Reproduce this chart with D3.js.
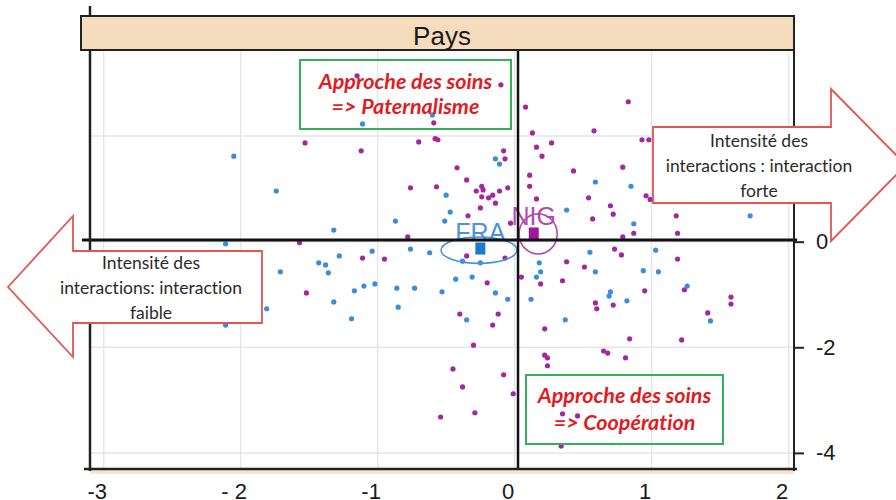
<!DOCTYPE html>
<html>
<head>
<meta charset="utf-8">
<script src="https://cdn.jsdelivr.net/npm/d3@7"></script>
<style>
  body { margin: 0; background: #fff; }
  svg { display: block; }
  text { font-variant-ligatures: none; }
</style>
</head>
<body>
<div id="chart"></div>
<script>
// factor map (dim 1 x dim 2), individuals coloured by "Pays"
var xTicks = [-3, -2, -1, 0, 1, 2];
var xTickLabels = ["-3", "- 2", "-1", "0", "1", "2"];
var yTicks = [2, 0, -2, -4];
var yTickLabels = ["2", "0", "-2", "-4"];

// FRA individuals [dim1, dim2]
var fraPoints = [
  [-1.11, 2.23], [-2.05, 1.62], [-1.74, 0.96], [-0.87, 0.39], [-1.32, 0.22],
  [-2.11, -0.04], [-0.50, 0.88], [-0.14, 1.57], [-0.11, 1.47], [0.59, 1.13],
  [-0.47, 0.56], [0.38, 0.60], [-0.51, 0.39], [0.85, 1.05], [1.72, 0.49],
  [0.87, 0.34], [-0.76, -0.14], [-1.04, -0.18], [-1.28, -0.27], [-1.43, -0.40],
  [-1.38, -0.44], [-1.36, -0.59], [-1.71, -0.57], [-1.02, -0.80], [-1.10, -0.84],
  [-0.86, -0.88], [-0.73, -0.88], [-1.17, -0.93], [-1.32, -1.14], [-1.81, -1.27],
  [-0.85, -1.24], [-1.19, -1.46], [-2.11, -1.58], [-0.62, -0.21], [-0.53, -0.95],
  [-0.38, -0.37], [-0.25, -0.40], [0.55, -0.20], [0.18, -0.40], [0.19, -0.57],
  [0.59, -0.57], [0.16, -0.67], [-0.43, -0.71], [-0.31, -0.67], [-0.14, -0.97],
  [-0.05, -1.09], [0.12, -1.09], [0.70, -0.95], [0.69, -1.03], [-0.35, -1.48],
  [0.37, -1.48], [1.03, -0.16], [0.94, -0.55], [1.05, -0.57], [1.26, -0.84],
  [0.82, -1.12], [1.43, -1.50], [-0.60, 2.40]
];

// NIG individuals [dim1, dim2]
var nigPoints = [
  [-1.53, 1.87], [-1.12, 1.72], [-0.70, 1.89], [-0.76, 1.02], [-0.78, 0.09],
  [-1.57, -0.02], [-0.10, 2.97], [0.08, 2.55], [-0.59, 2.25], [-0.58, 1.95],
  [-0.56, 1.93], [0.13, 2.06], [0.58, 2.10], [0.27, 1.87], [0.16, 1.79],
  [-0.08, 1.72], [0.20, 1.62], [-0.07, 1.57], [-0.42, 1.40], [0.43, 1.34],
  [0.11, 1.26], [-0.35, 1.17], [-0.57, 1.04], [0.11, 1.05], [-0.24, 1.05],
  [-0.23, 0.98], [-0.28, 0.96], [-0.05, 1.02], [-0.11, 0.96], [-0.16, 0.88],
  [-0.24, 0.85], [-0.19, 0.83], [0.16, 0.81], [0.54, 0.83], [-0.14, 0.73],
  [-0.25, 0.64], [0.70, 0.68], [0.72, 0.52], [0.57, 0.43], [-0.34, 0.49],
  [-0.03, 0.35], [0.83, 2.65], [0.93, 1.93], [0.98, 1.93], [0.79, 1.41],
  [0.96, 0.87], [0.99, 0.80], [1.18, 0.49], [0.87, 0.16], [0.79, 0.09],
  [1.19, 0.16], [-1.11, -0.31], [-0.95, -0.33], [-1.52, -0.97], [-0.35, -0.27],
  [-0.07, -0.31], [0.73, -0.14], [0.38, -0.38], [0.51, -0.48], [0.05, -0.67],
  [-0.20, -0.78], [0.19, -0.80], [0.35, -0.74], [0.59, -1.16], [0.60, -1.27],
  [0.72, -1.20], [-0.40, -1.37], [-0.12, -1.37], [-0.16, -1.58], [0.22, -1.65],
  [-0.30, -1.96], [0.65, -2.07], [0.68, -2.11], [0.22, -2.15], [0.24, -2.20],
  [0.24, -2.35], [-0.45, -2.41], [-0.08, -2.52], [-0.38, -2.75], [-0.01, -2.88],
  [-0.29, -3.24], [-0.54, -3.32], [0.35, -3.26], [0.46, -3.30], [0.34, -3.87],
  [0.78, -0.25], [1.19, -0.33], [1.24, -0.91], [0.95, -0.93], [1.58, -1.05],
  [1.58, -1.18], [1.41, -1.35], [0.84, -1.84], [1.22, -1.86], [0.81, -2.20],
  [-1.15, 3.14]
];

// group centres and confidence ellipses [cx, cy, rx, ry]
var groupNames = ["FRA", "NIG"];
var groupCentres = [[-0.25, -0.13], [0.14, 0.155]];
var groupEllipses = [[-0.26, -0.16, 0.277, 0.25], [0.172, 0.146, 0.139, 0.38]];

var crossX = 0.025, crossY = 0.03;

var width = 896, height = 500;
var padL = 90, padR = 794, padT = 50, padB = 469;

var blue = "#3a8ddb", purple = "#a3279e";
var groupColors = ["#4a92dc", "#b24ab0"];

var svg = d3.select("#chart").append("svg")
    .attr("width", width)
    .attr("height", height);

var x = d3.scaleLinear().domain([-3.1, 2.04]).range([padL, padR]);
var y = d3.scaleLinear().domain([-4.305, 3.63]).range([padB, padT]);

// grid
svg.append("g").selectAll("line")
    .data(xTicks)
    .enter().append("line")
    .attr("x1", function (d) { return x(d); })
    .attr("x2", function (d) { return x(d); })
    .attr("y1", padT).attr("y2", padB)
    .attr("stroke", "#e4e6ea").attr("stroke-width", 1.5);
svg.append("g").selectAll("line")
    .data(yTicks)
    .enter().append("line")
    .attr("y1", function (d) { return y(d); })
    .attr("y2", function (d) { return y(d); })
    .attr("x1", padL).attr("x2", padR)
    .attr("stroke", "#e4e6ea").attr("stroke-width", 1.5);

// points
svg.append("g").selectAll("circle")
    .data(nigPoints)
    .enter().append("circle")
    .attr("cx", function (d) { return x(d[0]); })
    .attr("cy", function (d) { return y(d[1]); })
    .attr("r", 2.6)
    .attr("fill", purple);
svg.append("g").selectAll("circle")
    .data(fraPoints)
    .enter().append("circle")
    .attr("cx", function (d) { return x(d[0]); })
    .attr("cy", function (d) { return y(d[1]); })
    .attr("r", 2.6)
    .attr("fill", blue);

// ellipses, centres, labels
svg.append("g").selectAll("ellipse")
    .data(groupEllipses)
    .enter().append("ellipse")
    .attr("cx", function (d) { return x(d[0]); })
    .attr("cy", function (d) { return y(d[1]); })
    .attr("rx", function (d) { return x(d[2]) - x(0); })
    .attr("ry", function (d) { return y(0) - y(d[3]); })
    .attr("fill", "none")
    .attr("stroke", function (d, i) { return groupColors[i]; })
    .attr("stroke-width", 1.6);

svg.append("g").selectAll("rect")
    .data(groupCentres)
    .enter().append("rect")
    .attr("x", function (d) { return x(d[0]) - 5; })
    .attr("y", function (d) { return y(d[1]) - 6; })
    .attr("width", 10).attr("height", 12)
    .attr("fill", function (d, i) { return i == 0 ? "#1f78c8" : "#a0189c"; });

svg.append("g").selectAll("text")
    .data(groupCentres)
    .enter().append("text")
    .attr("x", function (d) { return x(d[0]); })
    .attr("y", function (d) { return y(d[1]) - 8; })
    .attr("text-anchor", "middle")
    .attr("font-family", "Liberation Sans, Arial, sans-serif")
    .attr("font-size", "25px")
    .attr("fill", function (d, i) { return groupColors[i]; })
    .text(function (d, i) { return groupNames[i]; });

// cross lines
svg.append("line")
    .attr("x1", 82).attr("x2", 797)
    .attr("y1", y(crossY)).attr("y2", y(crossY))
    .attr("stroke", "#111").attr("stroke-width", 3);
svg.append("line")
    .attr("x1", x(crossX)).attr("x2", x(crossX))
    .attr("y1", padT).attr("y2", padB)
    .attr("stroke", "#111").attr("stroke-width", 2.5);

// panel frame
svg.append("rect")
    .attr("x", padL).attr("y", padB + 1)
    .attr("width", padR - padL).attr("height", 4)
    .attr("fill", "#f6e6cf");
svg.append("line")
    .attr("x1", padL).attr("x2", padL)
    .attr("y1", 6).attr("y2", padB + 2)
    .attr("stroke", "#222").attr("stroke-width", 2.5);
svg.append("line")
    .attr("x1", padR).attr("x2", padR)
    .attr("y1", 16).attr("y2", padB + 2)
    .attr("stroke", "#222").attr("stroke-width", 2);
svg.append("line")
    .attr("x1", 84).attr("x2", 797)
    .attr("y1", padB).attr("y2", padB)
    .attr("stroke", "#222").attr("stroke-width", 2.5);

// strip
svg.append("rect")
    .attr("x", 81).attr("y", 16)
    .attr("width", padR - 81).attr("height", padT - 16)
    .attr("fill", "#f4dcbc")
    .attr("stroke", "#222").attr("stroke-width", 2);
svg.append("text")
    .attr("x", (padL + padR) / 2)
    .attr("y", 45)
    .attr("text-anchor", "middle")
    .attr("font-family", "Liberation Sans, Arial, sans-serif")
    .attr("font-size", "26px")
    .attr("fill", "#1a1a1a")
    .text("Pays");

// axes
var xAxis = svg.append("g")
    .attr("transform", "translate(0," + padB + ")")
    .call(d3.axisBottom(x).tickValues(xTicks).tickSize(0).tickPadding(14)
        .tickFormat(function (d, i) { return xTickLabels[i]; }));
xAxis.select(".domain").remove();
xAxis.selectAll("text")
    .attr("dx", -7)
    .attr("font-family", "Liberation Sans, Arial, sans-serif")
    .attr("font-size", "22px")
    .attr("fill", "#1a1a1a");

var yAxis = svg.append("g")
    .attr("transform", "translate(" + padR + ",0)")
    .call(d3.axisRight(y).tickValues(yTicks).tickSize(10).tickPadding(12)
        .tickFormat(function (d, i) { return yTickLabels[i]; }));
yAxis.select(".domain").remove();
yAxis.selectAll("line").attr("stroke", "#222").attr("stroke-width", 2);
yAxis.selectAll("text")
    .attr("font-family", "Liberation Sans, Arial, sans-serif")
    .attr("font-size", "22px")
    .attr("fill", "#1a1a1a");

// quadrant notes
function noteBox(bx, by, bw, bh, lines, baselines) {
  svg.append("rect")
      .attr("x", bx).attr("y", by)
      .attr("width", bw).attr("height", bh)
      .attr("fill", "none")
      .attr("stroke", "#34b05a").attr("stroke-width", 2);
  lines.forEach(function (t, i) {
    svg.append("text")
        .attr("x", bx + bw / 2)
        .attr("y", baselines[i])
        .attr("text-anchor", "middle")
        .attr("font-family", "Lato, sans-serif")
        .attr("font-weight", "bold")
        .attr("font-style", "italic")
        .attr("font-size", "21.5px")
        .attr("fill", "#e01b22")
        .text(t);
  });
}
noteBox(300, 60, 211, 69, ["Approche des soins", "=> Paternalisme"], [89, 114]);
noteBox(526, 375, 197, 69, ["Approche des soins", "=> Coopération"], [403, 430]);

// arrows
function arrow(points, tx, lines, baselines) {
  svg.append("path")
      .attr("d", d3.line()(points) + "Z")
      .attr("fill", "#fff")
      .attr("stroke", "#e25555").attr("stroke-width", 1.8);
  lines.forEach(function (t, i) {
    svg.append("text")
        .attr("x", tx)
        .attr("y", baselines[i])
        .attr("text-anchor", "middle")
        .attr("font-family", "Lato, sans-serif")
        .attr("font-size", "17.5px")
        .attr("fill", "#2a2a2a")
        .text(t);
  });
}
arrow([[8, 287], [73, 216], [73, 251], [262, 251], [262, 323], [73, 323], [73, 357]],
    151, ["Intensité des", "interactions: interaction", "faible"], [269, 294, 319]);
arrow([[906, 165], [831, 89], [831, 127], [653, 127], [653, 203], [831, 203], [831, 241]],
    759, ["Intensité des", "interactions : interaction", "forte"], [147, 172, 197]);
</script>
</body>
</html>
